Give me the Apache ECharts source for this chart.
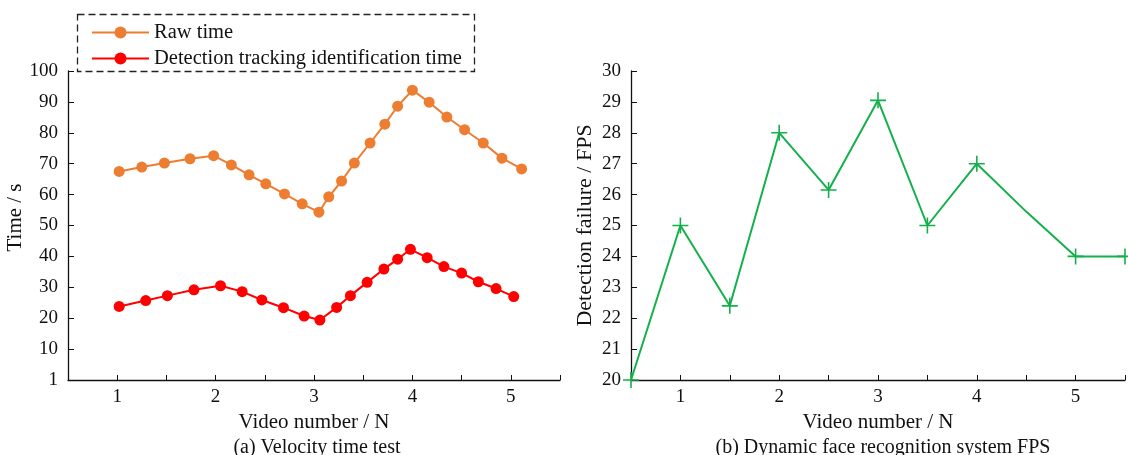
<!DOCTYPE html>
<html>
<head>
<meta charset="utf-8">
<script src="https://cdn.jsdelivr.net/npm/echarts@6/dist/echarts.min.js"></script>
<style>
  html, body { margin: 0; padding: 0; background: #fff; }
  #chart { width: 1128px; height: 455px; }
</style>
</head>
<body>
<div id="chart"></div>
<script>
// (a) Velocity time test
var rawX = [1.02, 1.25, 1.48, 1.74, 1.98, 2.16, 2.34, 2.51, 2.70, 2.88, 3.05, 3.15,
  3.28, 3.41, 3.57, 3.72, 3.85, 4.00, 4.17, 4.35, 4.53, 4.72, 4.91, 5.11];
var rawY = [67.5, 68.9, 70.2, 71.6, 72.6, 69.6, 66.4, 63.5, 60.2, 57.0, 54.3, 59.3,
  64.4, 70.2, 76.7, 82.8, 88.6, 93.8, 89.9, 85.1, 81.0, 76.7, 71.8, 68.3];
var detX = [1.02, 1.29, 1.51, 1.78, 2.05, 2.27, 2.47, 2.69, 2.90, 3.06, 3.23,
  3.37, 3.54, 3.71, 3.85, 3.98, 4.15, 4.32, 4.50, 4.67, 4.85, 5.03];
var detY = [23.8, 25.7, 27.3, 29.2, 30.5, 28.6, 25.9, 23.4, 20.7, 19.4, 23.5,
  27.3, 31.6, 35.9, 39.1, 42.3, 39.6, 36.7, 34.6, 31.8, 29.6, 27.0];

// (b) Dynamic face recognition system FPS
var fpsX = [0.5, 1, 1.5, 2, 2.5, 3, 3.5, 4, 4.5, 5, 5.5];
var fpsY = [20, 25, 22.4, 28, 26.15, 29.05, 25, 27, 25.45, 24, 24];
var fpsMarked = [true, true, true, true, true, true, true, true, false, true, true];

var leftNames = ['Raw time', 'Detection tracking identification time'];
var captions = ['(a) Velocity time test', '(b) Dynamic face recognition system FPS'];

function pairs(xs, ys) {
  return xs.map(function (x, i) { return [x, ys[i]]; });
}

var font = 'Liberation Serif';
var plus = 'path://M9,0h2v9h9v2h-9v9h-2v-9h-9v-2h9z';

function xAxis(gridIndex) {
  return {
    type: 'value', gridIndex: gridIndex,
    min: 0.5, max: 5.5, interval: 0.5,
    name: 'Video number / N', nameLocation: 'middle', nameGap: 21,
    nameTextStyle: { fontFamily: font, fontSize: 21, color: '#111' },
    axisLine: { lineStyle: { color: '#111', width: 1.3 } },
    axisTick: { inside: true, length: 5, lineStyle: { color: '#111' } },
    axisLabel: {
      margin: 8, fontFamily: font, fontSize: 19, color: '#111',
      showMinLabel: true, showMaxLabel: true,
      formatter: function (v) { return Math.abs(v - Math.round(v)) < 1e-6 ? String(Math.round(v)) : ''; }
    },
    splitLine: { show: false }
  };
}

var fpsData = fpsX.map(function (x, i) {
  var d = { value: [x, fpsY[i]] };
  if (!fpsMarked[i]) d.symbol = 'none';
  return d;
});

var chart = echarts.init(document.getElementById('chart'));
chart.setOption({
  backgroundColor: '#fff',
  animation: false,
  title: [
    { text: captions[0], left: 312, top: 433, textAlign: 'center',
      textStyle: { fontFamily: font, fontSize: 20, fontWeight: 'normal', color: '#111' } },
    { text: captions[1], left: 878, top: 433, textAlign: 'center',
      textStyle: { fontFamily: font, fontSize: 20, fontWeight: 'normal', color: '#111' } }
  ],
  legend: {
    data: leftNames,
    orient: 'vertical',
    left: 86, top: 17,
    itemWidth: 57, itemHeight: 15, itemGap: 5,
    textStyle: { fontFamily: font, fontSize: 20.5, color: '#111' }
  },
  graphic: [{
    type: 'rect',
    shape: { x: 77.5, y: 14.5, width: 397, height: 57 },
    style: { fill: 'none', stroke: '#222', lineWidth: 1.3, lineDash: [7, 4] },
    z: 10
  }],
  grid: [
    { left: 68, top: 71, width: 492, height: 309 },
    { left: 631, top: 71, width: 497, height: 309 }
  ],
  xAxis: [xAxis(0), xAxis(1)],
  yAxis: [{
    type: 'value', gridIndex: 0,
    min: 0, max: 100, interval: 10,
    name: 'Time / s', nameLocation: 'middle', nameGap: 39,
    nameTextStyle: { fontFamily: font, fontSize: 21, color: '#111', padding: [0, 0, 0, 16] },
    axisLine: { show: true, lineStyle: { color: '#111', width: 1.3 } },
    axisTick: { show: true, inside: true, length: 6, lineStyle: { color: '#111' } },
    axisLabel: {
      margin: 10, fontFamily: font, fontSize: 19, color: '#111',
      formatter: function (v) { return v === 0 ? '1' : String(v); }
    },
    splitLine: { show: false }
  }, {
    type: 'value', gridIndex: 1,
    min: 20, max: 30, interval: 1,
    name: 'Detection failure / FPS', nameLocation: 'middle', nameGap: 35,
    nameTextStyle: { fontFamily: font, fontSize: 22, color: '#111' },
    axisLine: { show: true, lineStyle: { color: '#111', width: 1.3 } },
    axisTick: { show: true, inside: true, length: 6, lineStyle: { color: '#111' } },
    axisLabel: { margin: 10, fontFamily: font, fontSize: 19, color: '#111' },
    splitLine: { show: false }
  }],
  series: [{
    name: leftNames[0], type: 'line', xAxisIndex: 0, yAxisIndex: 0,
    data: pairs(rawX, rawY),
    symbol: 'circle', symbolSize: 11,
    lineStyle: { color: '#ED7D31', width: 2 },
    itemStyle: { color: '#ED7D31' }
  }, {
    name: leftNames[1], type: 'line', xAxisIndex: 0, yAxisIndex: 0,
    data: pairs(detX, detY),
    symbol: 'circle', symbolSize: 11,
    lineStyle: { color: '#FF0000', width: 2 },
    itemStyle: { color: '#FF0000' }
  }, {
    name: 'FPS', type: 'line', xAxisIndex: 1, yAxisIndex: 1,
    data: fpsData,
    symbol: plus, symbolSize: 16, showAllSymbol: true,
    clip: false,
    lineStyle: { color: '#14B04C', width: 2 },
    itemStyle: { color: '#14B04C' }
  }]
});
</script>
</body>
</html>
